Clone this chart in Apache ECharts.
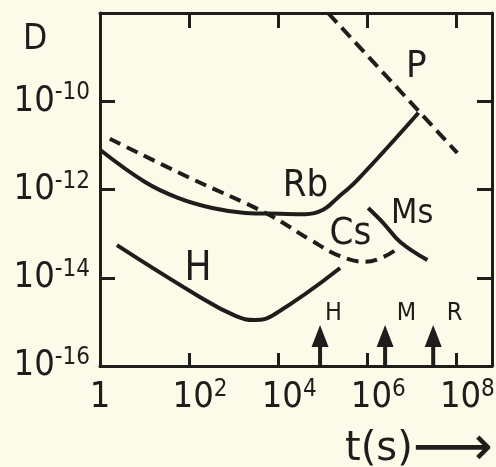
<!DOCTYPE html>
<html>
<head>
<meta charset="utf-8">
<script src="https://cdn.jsdelivr.net/npm/echarts@6.0.0/dist/echarts.min.js"></script>
<style>
  html, body { margin: 0; padding: 0; background: #fcfae8; }
  #chart { width: 496px; height: 467px; }
</style>
</head>
<body>
<div id="chart"></div>
<script>
// values are log10: x = log10 t(s), y = log10 D
var rbT = [0, 1.01, 1.75, 2.52, 3.26, 4.04, 4.61, 5.01, 5.33, 5.78, 7.15];
var rbD = [-11.10, -11.83, -12.19, -12.42, -12.53, -12.55, -12.56, -12.46, -12.19, -11.78, -10.26];

var csT = [0.22, 2.02, 3.75, 4.72, 5.39, 5.96, 6.36, 6.67];
var csD = [-10.85, -11.74, -12.55, -13.14, -13.51, -13.64, -13.53, -13.35];

var msT = [6.02, 6.36, 6.74, 7.35];
var msD = [-12.42, -12.76, -13.19, -13.60];

var pT = [5.12, 8.02];
var pD = [-8.0, -11.17];

var hT = [0.38, 2.25, 3.03, 3.48, 3.93, 5.39];
var hD = [-13.26, -14.44, -14.86, -14.96, -14.82, -13.78];

// arrows on the time axis (H, M, R)
var arrowT = [4.94, 6.40, 7.48];
var arrowNames = ['H', 'M', 'R'];

var xTicks = [0, 2, 4, 6, 8];
var yTicks = [-16, -14, -12, -10];

var ink = '#1d1d1b';
var cond = "'DejaVu Sans Condensed', 'Liberation Sans Narrow', sans-serif";

function zip(a, b) {
    return a.map(function (v, i) { return [v, b[i]]; });
}

var rich = {
    sp: { width: 22, fontSize: 10 },
    b: { fontSize: 36, lineHeight: 40, fontFamily: cond, color: ink },
    e: { fontSize: 24, lineHeight: 24, fontFamily: cond, color: ink, verticalAlign: 'top' }
};

// where the names sit on the plot
var textSpots = [
    { name: 'Rb', at: [4.61, -11.92], size: 38 },
    { name: 'Cs', at: [5.62, -13.01], size: 38 },
    { name: 'Ms', at: [7.01, -12.55], size: 34 },
    { name: 'P', at: [7.10, -9.22], size: 38 },
    { name: 'H', at: [2.20, -13.82], size: 40 },
    { name: 'H', at: [5.24, -14.80], size: 25 },
    { name: 'M', at: [6.88, -14.80], size: 25 },
    { name: 'R', at: [7.96, -14.80], size: 25 }
];

var solid = { color: ink, width: 4 };

var series = [
    { name: 'Rb', type: 'line', data: zip(rbT, rbD), smooth: 0.4, showSymbol: false, lineStyle: solid },
    { name: 'Cs', type: 'line', data: zip(csT, csD), smooth: 0.4, showSymbol: false,
      lineStyle: { color: ink, width: 4, type: [12, 7] } },
    { name: 'Ms', type: 'line', data: zip(msT, msD), smooth: 0.4, showSymbol: false, lineStyle: solid },
    { name: 'P', type: 'line', data: zip(pT, pD), showSymbol: false,
      lineStyle: { color: ink, width: 4, type: [13, 7] } },
    { name: 'H', type: 'line', data: zip(hT, hD), smooth: 0.45, showSymbol: false, lineStyle: solid },
    {
        name: 'labels', type: 'scatter', symbolSize: 0,
        itemStyle: { color: ink, opacity: 1 },
        data: textSpots.map(function (c) {
            return {
                value: c.at, name: c.name,
                label: { show: true, position: 'inside', formatter: c.name,
                         fontSize: c.size, fontFamily: cond, color: ink }
            };
        })
    }
];

arrowT.forEach(function (t, i) {
    series.push({
        name: 'arrow ' + arrowNames[i], type: 'line', showSymbol: true, symbol: 'none',
        lineStyle: { color: ink, width: 4 },
        itemStyle: { color: ink },
        data: [
            [t, -16],
            { value: [t, -15.32], symbol: 'triangle', symbolSize: [17, 22] }
        ]
    });
});

function axis(extra) {
    var a = {
        type: 'value',
        axisLine: { onZero: false, lineStyle: { color: ink, width: 3 } },
        axisTick: { inside: true, length: 15, lineStyle: { color: ink, width: 3 } },
        axisLabel: { show: false },
        splitLine: { show: false }
    };
    for (var k in extra) a[k] = extra[k];
    return a;
}

var xRange = { min: 0, max: 8.8, interval: 2 };
var yRange = { min: -16, max: -8, interval: 2 };
var plotW = 392, plotH = 353;

var option = {
    backgroundColor: '#fcfae8',
    animation: false,
    title: [
        { text: 'D', left: 23, top: 22, padding: 0,
          textStyle: { fontSize: 35, fontWeight: 'normal', fontFamily: cond, color: ink } },
        { text: '{t|t(s)}{a|⟶}', left: 345, top: 422, padding: 0,
          textStyle: { fontWeight: 'normal', rich: {
              t: { fontSize: 40, fontWeight: 'normal', fontFamily: "'DejaVu Sans'", color: ink },
              a: { fontSize: 56, fontWeight: 'normal', fontFamily: "'DejaVu Sans'", color: ink }
          } } }
    ],
    grid: { left: 100, right: 4, top: 13, bottom: 101, containLabel: false, outerBoundsMode: 'none' },
    xAxis: [
        // labelled bottom axis (frame line)
        axis(Object.assign({ position: 'bottom', axisTick: { show: false },
            axisLabel: {
                margin: 12, rich: rich,
                formatter: function (v) {
                    if (xTicks.indexOf(v) < 0) return '';
                    if (v === 0) return '{b|1}';
                    return '{sp| }{b|10}{e|' + v + '}';
                }
            } }, xRange)),
        axis(Object.assign({ position: 'top' }, xRange)),
        // top-side axis moved down onto the bottom frame: its outward ticks point up into the plot
        axis(Object.assign({ position: 'top', offset: -plotH, axisLine: { show: false, onZero: false },
            axisTick: { inside: false, length: 13, lineStyle: { color: ink, width: 3 } } }, xRange))
    ],
    yAxis: [
        axis(Object.assign({ position: 'left', axisTick: { show: false },
            axisLabel: {
                margin: 10, rich: rich,
                formatter: function (v) {
                    if (yTicks.indexOf(v) < 0) return '';
                    return '{b|10}{e|' + v + '}';
                }
            } }, yRange)),
        axis(Object.assign({ position: 'right' }, yRange)),
        // right-side axis moved onto the left frame: its outward ticks point right into the plot
        axis(Object.assign({ position: 'right', offset: -plotW, axisLine: { show: false, onZero: false },
            axisTick: { inside: false, length: 15, lineStyle: { color: ink, width: 3 } } }, yRange))
    ],
    series: series
};

var myChart = echarts.init(document.getElementById('chart'));
myChart.setOption(option);
</script>
</body>
</html>
